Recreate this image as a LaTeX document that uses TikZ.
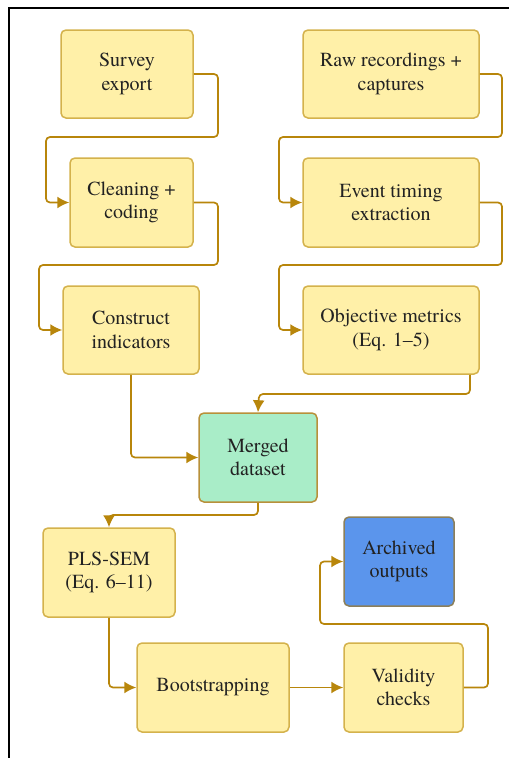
\documentclass[tikz,border=0pt]{standalone}
\usepackage{fontspec}
\setmainfont{TeX Gyre Termes}
\usetikzlibrary{arrows.meta}

\definecolor{boxfill}{HTML}{FFF0A8}
\definecolor{boxline}{HTML}{D4B24C}
\definecolor{mergefill}{HTML}{A9EDC8}
\definecolor{mergeline}{HTML}{B8903A}
\definecolor{archfill}{HTML}{5B95EC}
\definecolor{archline}{HTML}{8C7F5A}
\definecolor{flow}{HTML}{B8860B}
\definecolor{ink}{HTML}{222222}

\tikzset{
  stepbox/.style={draw=boxline, fill=boxfill, line width=1.5pt,
    rounded corners=5pt, align=center, text=ink, inner sep=0pt,
    font=\fontsize{20}{23.5}\selectfont},
  mergebox/.style={stepbox, draw=mergeline, fill=mergefill},
  archbox/.style={stepbox, draw=archline, fill=archfill},
  flowarrow/.style={draw=flow, line width=1.7pt, rounded corners=4pt,
    -{Latex[length=12pt,width=12pt]}},
}

\begin{document}
\begin{tikzpicture}[x=1pt,y=-1pt]
  \useasboundingbox (0,0) rectangle (509,758);
  % frame edges
  \draw[line width=1.5pt, black] (9,758) -- (9,8) -- (509,8);

  % survey branch
  \node[stepbox, minimum width=132pt, minimum height=88pt] (survey) at (127,74) {Survey\\export};
  \node[stepbox, minimum width=123pt, minimum height=89pt] (clean) at (131.5,202.5) {Cleaning +\\coding};
  \node[stepbox, minimum width=136pt, minimum height=88pt] (construct) at (131,330) {Construct\\indicators};

  % recording branch
  \node[stepbox, minimum width=176pt, minimum height=88pt] (raw) at (391,74) {Raw recordings +\\captures};
  \node[stepbox, minimum width=176pt, minimum height=89pt] (event) at (391,202.5) {Event timing\\extraction};
  \node[stepbox, minimum width=176pt, minimum height=88pt] (objective) at (391,330) {Objective metrics\\(Eq. 1–5)};

  % merge and analysis
  \node[mergebox, minimum width=118pt, minimum height=89pt] (merged) at (258,457.5) {Merged\\dataset};
  \node[stepbox, minimum width=132pt, minimum height=89pt] (pls) at (109,572.5) {PLS-SEM\\(Eq. 6–11)};
  \node[stepbox, minimum width=152pt, minimum height=89pt] (boot) at (213,687.5) {Bootstrapping};
  \node[stepbox, minimum width=119pt, minimum height=89pt] (valid) at (403.5,687.5) {Validity\\checks};
  \node[archbox, minimum width=110pt, minimum height=89pt] (archived) at (399,561.5) {Archived\\outputs};

  % connectors
  \draw[flowarrow] (survey.east) -| (218,137) -| (46,202.5) -- (clean.west);
  \draw[flowarrow] (clean.east) -| (218,265) -| (39,330) -- (construct.west);
  \draw[flowarrow] (raw.east) -| (502,137) -| (279,202.5) -- (event.west);
  \draw[flowarrow] (event.east) -| (502,265) -| (279,330) -- (objective.west);
  \draw[flowarrow] (objective.south -| 470,0) |- (259,394) -- (merged.north);
  \draw[flowarrow] (construct.south) |- (merged.west);
  \draw[flowarrow] (merged.south) |- (109,515) -- (pls.north);
  \draw[flowarrow] (pls.south) |- (boot.west);
  \draw[flowarrow] (boot.east) -- (valid.west);
  \draw[flowarrow] (valid.east) -| (488,624) -| (320,561.5) -- (archived.west);
\end{tikzpicture}
\end{document}
